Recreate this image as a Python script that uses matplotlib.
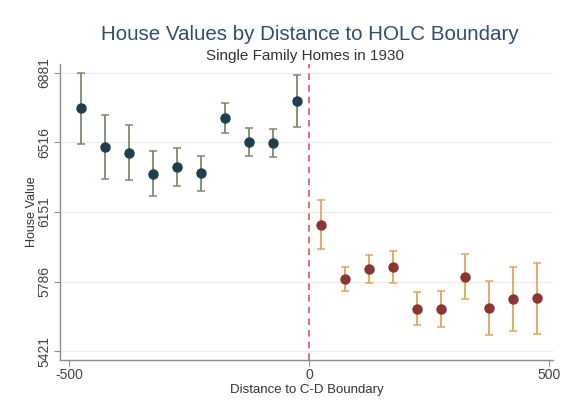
import matplotlib.pyplot as plt
import numpy as np

# bin centres (distance to C-D boundary)
left_x = [-475, -425, -375, -325, -275, -225, -175, -125, -75, -25]
right_x = [25, 75, 125, 175, 225, 275, 325, 375, 425, 475]

left_mean = [6696, 6490, 6460, 6350, 6387, 6356, 6644, 6518, 6513, 6734]
left_hi = [6879, 6661, 6607, 6469, 6487, 6446, 6722, 6591, 6586, 6871]
left_lo = [6509, 6324, 6321, 6237, 6289, 6263, 6565, 6446, 6440, 6597]

right_mean = [6083, 5802, 5851, 5865, 5644, 5641, 5811, 5647, 5696, 5700]
right_hi = [6214, 5865, 5926, 5947, 5734, 5739, 5932, 5792, 5862, 5883]
right_lo = [5956, 5738, 5781, 5781, 5558, 5548, 5697, 5506, 5528, 5513]

y_ticks = [5421, 5786, 6151, 6516, 6881]
x_ticks = [-500, 0, 500]

plt.rcParams["font.family"] = ["Liberation Sans", "DejaVu Sans"]
plt.rcParams["axes.unicode_minus"] = False

fig = plt.figure(figsize=(5.64, 4.15), dpi=100)
ax = fig.add_axes([0.1064, 0.1325, 0.874, 0.713])


def draw_bins(x, mean, lo, hi, line_color, dot_color):
    mean = np.asarray(mean)
    yerr = [mean - np.asarray(lo), np.asarray(hi) - mean]
    ax.errorbar(
        x, mean, yerr=yerr, fmt="none", ecolor=line_color,
        elinewidth=1.3, capsize=3.2, capthick=1.1, zorder=2,
    )
    ax.plot(x, mean, "o", color=dot_color, markersize=6.5, zorder=3)


draw_bins(left_x, left_mean, left_lo, left_hi, "#7d8a6c", "#1f3d4c")
draw_bins(right_x, right_mean, right_lo, right_hi, "#e6a657", "#8a3434")

ax.axvline(0, color="#d9546a", linestyle=(0, (4, 3)), linewidth=1.2, zorder=1)

ax.set_xlim(-519, 508)
ax.set_ylim(5376, 6926)
ax.set_xticks(x_ticks)
ax.set_yticks(y_ticks)
ax.set_yticklabels([str(v) for v in y_ticks], rotation=90, va="center")
ax.grid(axis="y", color="#ececec", linewidth=0.9)
ax.set_axisbelow(True)

for side in ("top", "right"):
    ax.spines[side].set_visible(False)
for side in ("left", "bottom"):
    ax.spines[side].set_color("#8c8c8c")
    ax.spines[side].set_linewidth(1.0)
ax.tick_params(colors="#8c8c8c", labelcolor="#444444", labelsize=10, length=4, pad=2)

ax.set_xlabel("Distance to C-D Boundary", fontsize=9.5, color="#333333", labelpad=1)
ax.set_ylabel("House Value", fontsize=9, color="#333333", labelpad=0)

fig.text(0.549, 0.918, "House Values by Distance to HOLC Boundary",
         ha="center", va="center", fontsize=14.8, color="#2f4d70")
fig.text(0.541, 0.864, "Single Family Homes in 1930",
         ha="center", va="center", fontsize=11, color="#333333")

fig.savefig("out.png", dpi=100, facecolor="white")
